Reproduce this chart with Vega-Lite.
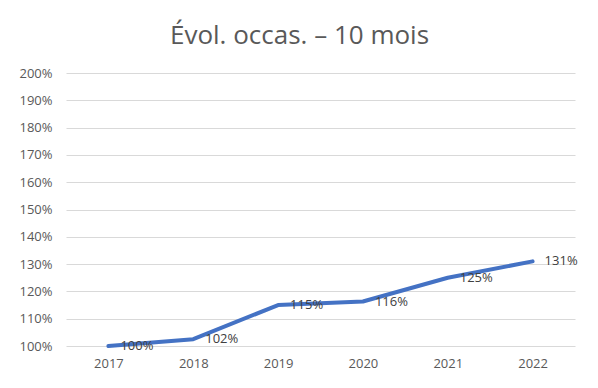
{
  "$schema": "https://vega.github.io/schema/vega-lite/v6.json",
  "autosize": "none",
  "width": 509,
  "height": 273,
  "padding": {"left": 66, "top": 73, "right": 23, "bottom": 42},
  "background": "white",
  "title": {
    "text": "Évol. occas. – 10 mois",
    "font": "Open Sans",
    "fontSize": 26,
    "fontWeight": "normal",
    "color": "#595959",
    "anchor": "middle",
    "frame": "group",
    "dx": -21,
    "offset": 18
  },
  "data": {
    "values": [
      {"annee": "2017", "valeur": 1.00},
      {"annee": "2018", "valeur": 1.025},
      {"annee": "2019", "valeur": 1.15},
      {"annee": "2020", "valeur": 1.163},
      {"annee": "2021", "valeur": 1.25},
      {"annee": "2022", "valeur": 1.31}
    ]
  },
  "encoding": {
    "x": {
      "field": "annee",
      "type": "ordinal",
      "scale": {"type": "point", "padding": 0.5},
      "axis": {
        "title": null,
        "labelAngle": 0,
        "domain": false,
        "ticks": false,
        "grid": false,
        "labelFont": "Open Sans",
        "labelFontSize": 13,
        "labelColor": "#595959",
        "labelPadding": 11
      }
    },
    "y": {
      "field": "valeur",
      "type": "quantitative",
      "scale": {"domain": [1, 2], "nice": false, "zero": false},
      "axis": {
        "title": null,
        "values": [1, 1.1, 1.2, 1.3, 1.4, 1.5, 1.6, 1.7, 1.8, 1.9, 2],
        "format": ".0%",
        "domain": false,
        "ticks": false,
        "gridColor": "#d9d9d9",
        "gridWidth": 1,
        "labelFont": "Open Sans",
        "labelFontSize": 13,
        "labelColor": "#595959",
        "labelPadding": 14
      }
    }
  },
  "layer": [
    {
      "mark": {"type": "line", "color": "#4472C4", "strokeWidth": 4, "strokeCap": "round", "strokeJoin": "round"}
    },
    {
      "mark": {"type": "text", "align": "left", "baseline": "middle", "dx": 12, "font": "Open Sans", "fontSize": 13, "color": "#404040"},
      "encoding": {
        "text": {"field": "valeur", "type": "quantitative", "format": ".0%"}
      }
    }
  ],
  "config": {
    "view": {"stroke": null}
  }
}
